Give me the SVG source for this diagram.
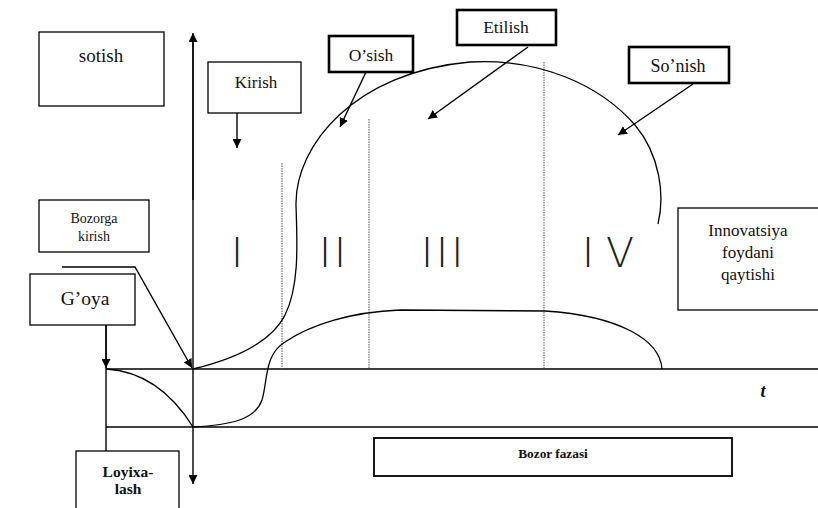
<svg xmlns="http://www.w3.org/2000/svg" width="818" height="508" viewBox="0 0 818 508">
<style>
.box{fill:#fff;stroke:#000;stroke-width:1.3}
.bold{fill:#fff;stroke:#000;stroke-width:2.6}
.t{font-family:'Liberation Serif','Times New Roman',serif;fill:#111;text-anchor:middle}
.tb{font-family:'Liberation Serif','Times New Roman',serif;font-weight:bold;fill:#111;text-anchor:middle}
.ln{fill:none;stroke:#000;stroke-width:1.4}
.cv{fill:none;stroke:#000;stroke-width:1.3}
.dot{fill:none;stroke:#555;stroke-width:1;stroke-dasharray:1.5 1}
.rn{font-family:'DejaVu Sans',sans-serif;font-weight:200;font-size:41px;fill:#222}
</style>
<defs>
<marker id="ah" viewBox="0 0 10 10" refX="10" refY="5" markerWidth="9" markerHeight="9" markerUnits="userSpaceOnUse" orient="auto">
<path d="M0,0 L10,5 L0,10 z" fill="#000"/>
</marker>
</defs>
<rect width="818" height="508" fill="#fff"/>

<g id="connectors">
<line class="ln" x1="193" y1="34" x2="193" y2="484" marker-end="url(#ah)"/>
<line class="ln" x1="193" y1="200" x2="193" y2="33" marker-end="url(#ah)"/>
<line class="ln" x1="106" y1="369" x2="818" y2="369"/>
<line class="ln" x1="106" y1="427" x2="818" y2="427"/>
<line class="ln" x1="106" y1="325" x2="106" y2="451"/>
<line class="ln" x1="106" y1="325" x2="106" y2="368" marker-end="url(#ah)"/>
<polyline class="ln" points="62,267 135,267 192,368" marker-end="url(#ah)"/>
<line class="ln" x1="237" y1="113" x2="237" y2="148" marker-end="url(#ah)"/>
<line class="ln" x1="366" y1="72" x2="340" y2="127" marker-end="url(#ah)"/>
<line class="ln" x1="528" y1="47" x2="428" y2="119" marker-end="url(#ah)"/>
<line class="ln" x1="693" y1="84" x2="618" y2="135" marker-end="url(#ah)"/>
<line class="dot" x1="282" y1="163" x2="282" y2="369"/>
<line class="dot" x1="369" y1="119" x2="369" y2="369"/>
<line class="dot" x1="544" y1="62" x2="544" y2="369"/>
<path class="cv" d="M193,369 C230,360 270,345 285,315 C300,285 297,240 296,205 C295,145 355,72 470,62 C540,58 600,85 635,125 C660,155 665,195 658,224"/>
<path class="cv" d="M193,427 C230,425 255,420 262,400 C268,380 264,355 285,342 C310,325 350,312 400,310 L545,311 C620,316 660,340 662,369"/>
<path class="cv" d="M106,369 C140,371 170,390 193,427"/>
</g>

<g id="numerals">
<text class="rn" x="231" y="267">I</text>
<text class="rn" x="319" y="267" letter-spacing="3">II</text>
<text class="rn" x="421" y="267" letter-spacing="3">III</text>
<text class="rn" x="582" y="267" letter-spacing="12">IV</text>
</g>

<g id="sotish">
<rect class="box" x="39" y="32" width="125" height="74"/>
<text class="t" x="101" y="62" font-size="19">sotish</text>
</g>
<g id="kirish">
<rect class="box" x="208" y="62" width="93" height="51"/>
<text class="t" x="256" y="88" font-size="17">Kirish</text>
</g>
<g id="osish">
<rect class="bold" x="329" y="36" width="84" height="36"/>
<text class="t" x="371" y="61" font-size="17.5">O’sish</text>
</g>
<g id="etilish">
<rect class="bold" x="457" y="10" width="99" height="35"/>
<text class="t" x="506" y="33" font-size="17.5">Etilish</text>
</g>
<g id="sonish">
<rect class="bold" x="629" y="47" width="100" height="36"/>
<text class="t" x="678" y="72" font-size="18">So’nish</text>
</g>
<g id="bozorga">
<rect class="box" x="39" y="200" width="110" height="52"/>
<text class="t" x="94" y="223" font-size="14">Bozorga</text>
<text class="t" x="94" y="241" font-size="14">kirish</text>
</g>
<g id="goya">
<rect class="box" x="30" y="274" width="105" height="51"/>
<text class="t" x="85" y="305" font-size="19.5">G’oya</text>
</g>
<g id="innovatsiya">
<rect class="box" x="678" y="208" width="145" height="102"/>
<text class="t" x="748" y="236" font-size="17">Innovatsiya</text>
<text class="t" x="748" y="258" font-size="17">foydani</text>
<text class="t" x="748" y="280" font-size="17">qaytishi</text>
</g>
<g id="loyixa">
<rect class="box" x="76" y="451" width="103" height="62"/>
<text class="tb" x="128" y="477" font-size="15.5">Loyixa-</text>
<text class="tb" x="128" y="494" font-size="15.5">lash</text>
</g>
<g id="bozor-fazasi">
<rect class="box" x="374" y="438" width="358" height="38" style="stroke-width:1.8"/>
<text class="tb" x="553" y="458" font-size="13.3">Bozor fazasi</text>
</g>
<g id="t-label">
<text class="tb" x="763" y="397" font-style="italic" font-size="18">t</text>
</g>
</svg>
